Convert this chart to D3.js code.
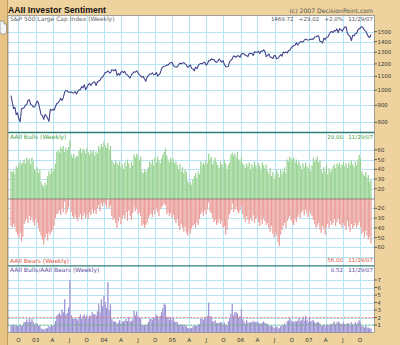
<!DOCTYPE html>
<html>
<head>
<meta charset="utf-8">
<script src="https://cdn.jsdelivr.net/npm/d3@7/dist/d3.min.js"></script>
<style>
  html, body { margin: 0; padding: 0; background: #efd39e; }
  svg { display: block; }
</style>
</head>
<body>
<svg id="chart" width="400" height="345"></svg>
<script>
// Weekly readings, first and last survey dates
const firstWeek = "2002-08-22";
const lastWeek = "2007-11-29";

// S&P 500 weekly closes
const spx = [
  962, 917, 879, 887, 844, 854, 818, 803, 879, 882, 885, 902, 904, 933, 936, 906, 901, 890, 889,
  909, 927, 914, 878, 844, 838, 817, 845, 837, 822, 805, 875, 869, 876, 871, 893, 911,
  916, 929, 946, 931, 951, 987, 998, 995, 985, 985, 988, 982, 981, 990, 974, 990, 1003, 1002,
  1026, 1016, 1039, 1003, 1020, 1038, 1046, 1033, 1048, 1058, 1058, 1033, 1058, 1065, 1071, 1089, 1095,
  1112, 1131, 1133, 1144, 1131, 1127, 1153, 1147, 1145, 1154, 1107, 1123, 1109, 1132, 1139, 1129, 1139, 1114,
  1113, 1096, 1089, 1114, 1124, 1136, 1132, 1144, 1128, 1112, 1106, 1093, 1100, 1080, 1064, 1095, 1106,
  1118, 1118, 1128, 1113, 1115, 1130, 1103, 1114, 1125, 1161, 1173, 1181, 1182, 1191, 1189, 1203, 1210, 1213,
  1187, 1177, 1175, 1174, 1190, 1206, 1201, 1208, 1210, 1200, 1191, 1172, 1181, 1191, 1163, 1159, 1143,
  1172, 1160, 1185, 1198, 1204, 1200, 1210, 1213, 1191, 1198, 1226, 1227, 1243, 1235, 1237, 1220, 1212,
  1221, 1241, 1227, 1214, 1227, 1196, 1177, 1177, 1179, 1219, 1230, 1242, 1268, 1265, 1256, 1270, 1268, 1255,
  1285, 1289, 1285, 1274, 1270, 1263, 1289, 1289, 1289, 1272, 1305, 1301, 1300, 1309, 1289, 1311, 1309,
  1322, 1306, 1261, 1272, 1285, 1257, 1256, 1245, 1272, 1270, 1242, 1249, 1263, 1280, 1266, 1302, 1296, 1304,
  1294, 1316, 1318, 1339, 1353, 1362, 1366, 1389, 1367, 1385, 1399, 1400, 1396, 1414, 1425, 1418, 1416,
  1418, 1423, 1426, 1423, 1445, 1449, 1456, 1457, 1403, 1401, 1387, 1435, 1420, 1443, 1447, 1471, 1495,
  1502, 1491, 1512, 1507, 1530, 1490, 1532, 1522, 1505, 1530, 1548, 1553, 1482,
  1465, 1453, 1411, 1463, 1457, 1478, 1484, 1518, 1531, 1542, 1554, 1540, 1514,
  1508, 1475, 1451, 1440.70, 1469.72
];

// AAII bullish readings (%)
const bulls = [
  38, 37, 39, 35, 43, 41, 44, 48, 45, 47,
  50, 46, 52, 49, 51, 45, 52, 48, 40, 38,
  42, 36, 40, 27, 24, 22, 26, 24, 33, 38,
  35, 41, 37, 40, 46, 58, 60, 57, 63, 61,
  64, 58, 62, 60, 63, 70, 55, 52, 56, 51,
  54, 53, 59, 62, 57, 61, 60, 56, 62, 58,
  55, 59, 57, 60, 54, 58, 56, 64, 61, 66,
  63, 69, 65, 62, 67, 60, 64, 50, 47, 45,
  49, 46, 44, 48, 42, 45, 40, 47, 43, 50,
  46, 41, 48, 44, 55, 52, 56, 54, 50, 53,
  38, 36, 40, 37, 39, 42, 48, 45, 50, 44,
  52, 47, 53, 49, 46, 51, 55, 58, 62, 54,
  50, 47, 52, 49, 51, 46, 48, 44, 40, 45,
  38, 42, 36, 40, 37, 28, 25, 27, 24, 30,
  33, 36, 31, 38, 35, 48, 44, 47, 45, 49,
  46, 56, 50, 53, 45, 48, 52, 47, 44, 41,
  48, 45, 42, 50, 46, 40, 44, 47, 55, 57,
  54, 56, 52, 58, 50, 48, 53, 46, 44, 41,
  46, 43, 47, 40, 45, 42, 48, 44, 41, 46,
  43, 39, 47, 44, 41, 45, 38, 35, 41, 33,
  37, 30, 34, 39, 36, 32, 40, 35, 38, 42,
  36, 50, 48, 53, 51, 49, 52, 47, 50, 45,
  48, 44, 40, 46, 42, 47, 43, 41, 45, 38,
  44, 52, 48, 50, 53, 47, 49, 39, 36, 42,
  38, 45, 35, 41, 37, 40, 43, 45, 41, 46,
  44, 47, 42, 45, 48, 43, 46, 41, 47, 44,
  49, 45, 42, 48, 44, 50, 55, 51, 38, 35,
  33, 37, 31, 34, 27, 29
];

// AAII bearish readings (%)
const bears = [
  38, 40, 36, 39, 44, 47, 50, 45, 54, 49,
  36, 33, 30, 35, 28, 32, 29, 34, 38, 31,
  35, 40, 44, 48, 52, 57, 50, 46, 53, 45,
  47, 44, 42, 38, 30, 26, 25, 22, 27, 20,
  24, 13, 26, 23, 19, 10, 24, 28, 31, 27,
  30, 33, 29, 26, 32, 28, 25, 30, 27, 31,
  24, 27, 21, 25, 22, 26, 20, 17, 23, 15,
  18, 14, 16, 19, 10, 20, 17, 28, 32, 30,
  35, 40, 33, 29, 36, 31, 27, 30, 24, 33,
  22, 28, 32, 25, 19, 23, 20, 26, 24, 28,
  38, 36, 40, 37, 35, 30, 27, 25, 29, 22,
  26, 20, 24, 28, 21, 19, 17, 15, 17, 26,
  24, 28, 25, 30, 27, 32, 35, 31, 38, 42,
  36, 40, 44, 39, 45, 48, 43, 46, 41, 38,
  36, 40, 34, 37, 31, 26, 24, 28, 22, 26,
  21, 14, 23, 25, 30, 34, 32, 37, 35, 31,
  36, 33, 40, 38, 47, 42, 30, 26, 22, 15,
  24, 21, 19, 23, 25, 22, 17, 26, 30, 34,
  28, 32, 36, 30, 33, 27, 35, 31, 29, 34,
  38, 32, 36, 30, 33, 37, 35, 40, 44, 38,
  46, 50, 45, 48, 55, 59, 47, 42, 38, 35,
  40, 33, 30, 28, 32, 35, 37, 31, 34, 29,
  26, 30, 24, 22, 27, 21, 25, 29, 23, 26,
  28, 32, 36, 40, 38, 35, 42, 45, 38, 41,
  47, 39, 36, 40, 33, 37, 35, 31, 38, 34,
  30, 36, 37, 40, 35, 38, 42, 33, 39, 44,
  36, 41, 38, 35, 40, 37, 34, 39, 46, 44,
  50, 43, 48, 52, 49, 56
];

// Axis tick values
const spxTicks = [800, 900, 1000, 1100, 1200, 1300, 1400, 1500];
const bullTicks = [20, 30, 40, 50, 60];
const bearTicks = [20, 30, 40, 50, 60];
const bearGrid = [20, 30, 40, 50, 60, 70];
const ratioTicks = [1, 2, 3, 4, 5, 6, 7];
const ratioBands = [{ v: 2, color: "#e8706a" }, { v: 1, color: "#5cb85c" }];

// ---------------------------------------------------------------
const parse = d3.timeParse("%Y-%m-%d");
const t0 = parse(firstWeek), t1 = parse(lastWeek);
const weeks = spx.map((_, i) => d3.timeDay.offset(t0, 7 * i));
const ratio = bulls.map((b, i) => b / bears[i]);

const svg = d3.select("#chart");
const SMALL = "'DejaVu Sans', Verdana, sans-serif";
const ARIAL = "'Liberation Sans', Arial, sans-serif";

const P = { l: 8, r: 374.5, t: 15.5, b: 332.5 };
const panel = {
  spx:   { t: 15.5,  b: 132.5 },
  bull:  { t: 132.5, b: 199 },
  bear:  { t: 199,   b: 265.8 },
  ratio: { t: 265.8, b: 332.5 }
};

const x = d3.scaleTime().domain([t0, t1]).range([11, 371]);
const step = x(weeks[1]) - x(weeks[0]);
const ySpx = d3.scaleLog().domain([800, 1500]).range([122.3, 31.7]);
const yBull = d3.scaleLinear().domain([20, 60]).range([188.7, 149.9]);
const yBear = d3.scaleLinear().domain([20, 60]).range([208.3, 247.3]);
const yRatio = d3.scaleLinear().domain([0, 7]).range([332.5, 280]);

// page background and left strip
svg.append("rect").attr("width", 400).attr("height", 345).attr("fill", "#efd39e");
svg.append("rect").attr("x", 0).attr("y", 0).attr("width", 7).attr("height", 345).attr("fill", "#e7c384");
svg.append("line").attr("x1", 7.5).attr("x2", 7.5).attr("y1", 0).attr("y2", 345)
  .attr("stroke", "#c99e58").attr("stroke-width", 1);
// pointer glyph at the left edge
svg.append("path")
  .attr("d", "M0,21 L4,21 L4,24 L6.5,24 L6.5,33 L3,34.5 L0,33 Z")
  .attr("fill", "#f4f4f4").attr("stroke", "#777").attr("stroke-width", 0.6);

// plot area
svg.append("rect").attr("x", P.l).attr("y", P.t).attr("width", P.r - P.l).attr("height", P.b - P.t)
  .attr("fill", "#ffffff");

const grid = svg.append("g").attr("stroke", "#b8e3f3").attr("stroke-width", 1);
const qTicks = x.ticks(d3.timeMonth.every(3));
const crisp = v => Math.round(v) + 0.5;

qTicks.forEach(d => {
  grid.append("line").attr("x1", crisp(x(d))).attr("x2", crisp(x(d)))
    .attr("y1", P.t).attr("y2", P.b);
});
function hgrid(vals, scale, pnl) {
  vals.forEach(v => {
    const yy = crisp(scale(v));
    if (yy > pnl.t && yy < pnl.b)
      grid.append("line").attr("x1", P.l).attr("x2", P.r).attr("y1", yy).attr("y2", yy);
  });
}
hgrid(spxTicks, ySpx, panel.spx);
hgrid(bullTicks, yBull, panel.bull);
hgrid(bearGrid, yBear, panel.bear);
hgrid(ratioTicks, yRatio, panel.ratio);

// bulls: bars rising from the panel floor
const gBull = svg.append("g");
weeks.forEach((d, i) => {
  const yy = Math.min(panel.bull.b, yBull(bulls[i]));
  gBull.append("rect").attr("x", x(d) - step / 2).attr("width", step)
    .attr("y", yy).attr("height", panel.bull.b - yy).attr("fill", "#c8e8c1");
  gBull.append("line").attr("x1", x(d)).attr("x2", x(d)).attr("y1", yy).attr("y2", panel.bull.b)
    .attr("stroke", "#76c473").attr("stroke-width", 0.6);
});

// bears: bars hanging from the panel top
const gBear = svg.append("g");
weeks.forEach((d, i) => {
  const yy = Math.max(panel.bear.t, yBear(bears[i]));
  gBear.append("rect").attr("x", x(d) - step / 2).attr("width", step)
    .attr("y", panel.bear.t).attr("height", yy - panel.bear.t).attr("fill", "#f6ccc9");
  gBear.append("line").attr("x1", x(d)).attr("x2", x(d)).attr("y1", panel.bear.t).attr("y2", yy)
    .attr("stroke", "#e27f7c").attr("stroke-width", 0.6);
});

// bulls / bears ratio
const gRatio = svg.append("g");
weeks.forEach((d, i) => {
  const yy = yRatio(ratio[i]);
  gRatio.append("rect").attr("x", x(d) - step / 2).attr("width", step)
    .attr("y", yy).attr("height", panel.ratio.b - yy).attr("fill", "#c9c2ea");
  gRatio.append("line").attr("x1", x(d)).attr("x2", x(d)).attr("y1", yy).attr("y2", panel.ratio.b)
    .attr("stroke", "#7a6bbf").attr("stroke-width", 0.6);
});
ratioBands.forEach(b => {
  svg.append("line").attr("x1", P.l).attr("x2", P.r)
    .attr("y1", yRatio(b.v)).attr("y2", yRatio(b.v))
    .attr("stroke", b.color).attr("stroke-width", 0.8).attr("stroke-dasharray", "2,1.5");
});

// S&P 500 line
svg.append("path")
  .datum(weeks.map((d, i) => [d, spx[i]]))
  .attr("fill", "none").attr("stroke", "#3e3e88").attr("stroke-width", 1.05)
  .attr("stroke-linejoin", "round")
  .attr("d", d3.line().x(d => x(d[0])).y(d => ySpx(d[1])));

// panel separators and frame
svg.append("line").attr("x1", P.l).attr("x2", P.r).attr("y1", panel.bear.t).attr("y2", panel.bear.t)
  .attr("stroke", "#8a6e6e").attr("stroke-width", 0.8);
[panel.spx.b, panel.bear.b].forEach(yy => {
  svg.append("line").attr("x1", P.l).attr("x2", P.r).attr("y1", yy).attr("y2", yy)
    .attr("stroke", "#2e7d74").attr("stroke-width", 1.3);
});
svg.append("rect").attr("x", P.l).attr("y", P.t).attr("width", P.r - P.l).attr("height", P.b - P.t)
  .attr("fill", "none").attr("stroke", "#8c8c8c").attr("stroke-width", 0.8);

// right-hand axes
function rightAxis(vals, scale) {
  const g = svg.append("g");
  vals.forEach(v => {
    const yy = scale(v);
    g.append("line").attr("x1", P.r).attr("x2", P.r + 2.5).attr("y1", yy).attr("y2", yy)
      .attr("stroke", "#333").attr("stroke-width", 0.8);
    g.append("text").attr("x", P.r + 3).attr("y", yy + 2)
      .attr("font-family", SMALL).attr("font-size", 5.4).attr("fill", "#333").text(v);
  });
}
rightAxis(spxTicks, ySpx);
rightAxis(bullTicks, yBull);
rightAxis(bearTicks, yBear);
rightAxis(ratioTicks, yRatio);

// bottom time axis
const monthLetter = d3.timeFormat("%b");
const yearFmt = d3.timeFormat("%y");
qTicks.forEach(d => {
  svg.append("text").attr("x", x(d)).attr("y", 341.5).attr("text-anchor", "middle")
    .attr("font-family", SMALL).attr("font-size", 5.6).attr("fill", "#333")
    .text(d.getMonth() === 0 ? yearFmt(d) : monthLetter(d)[0]);
});

// titles
svg.append("text").attr("x", 8).attr("y", 12.6)
  .attr("font-family", ARIAL).attr("font-size", 8.7).attr("font-weight", "bold").attr("fill", "#111")
  .text("AAII Investor Sentiment");
svg.append("text").attr("x", 373).attr("y", 12.5).attr("text-anchor", "end")
  .attr("font-family", SMALL).attr("font-size", 6.1).attr("fill", "#555")
  .text("(c) 2007 DecisionPoint.com");

// panel captions and latest readings
const f2 = d3.format(".2f");
const dateFmt = d3.timeFormat("%m/%d/%y");
const n = spx.length - 1;
const chg = spx[n] - spx[n - 1];
const pct = chg / spx[n - 1] * 100;
const lastDate = dateFmt(weeks[n]);

function caption(txt, yy, color) {
  svg.append("text").attr("x", 10).attr("y", yy)
    .attr("font-family", SMALL).attr("font-size", 6).attr("fill", color).text(txt);
}
function reading(txt, yy, color) {
  svg.append("text").attr("x", 373).attr("y", yy).attr("text-anchor", "end")
    .attr("font-family", SMALL).attr("font-size", 5.5).attr("fill", color)
    .style("white-space", "pre").text(txt);
}
caption("S&P 500 Large Cap Index (Weekly)", 21.3, "#666");
reading(`${f2(spx[n])}   ${d3.format("+.2f")(chg)}   ${d3.format("+.1f")(pct)}%   ${lastDate}`, 21.3, "#555");
caption("AAII Bulls (Weekly)", 139, "#3f9f3f");
reading(`${f2(bulls[n])}   ${lastDate}`, 139, "#3f9f3f");
caption("AAII Bears (Weekly)", 263.3, "#e0533f");
reading(`${f2(bears[n])}   ${lastDate}`, 262.3, "#e0533f");
caption("AAII Bulls/AAII Bears (Weekly)", 271.6, "#5a4a9e");
reading(`${f2(ratio[n])}   ${lastDate}`, 271.6, "#5a4a9e");
</script>
</body>
</html>
